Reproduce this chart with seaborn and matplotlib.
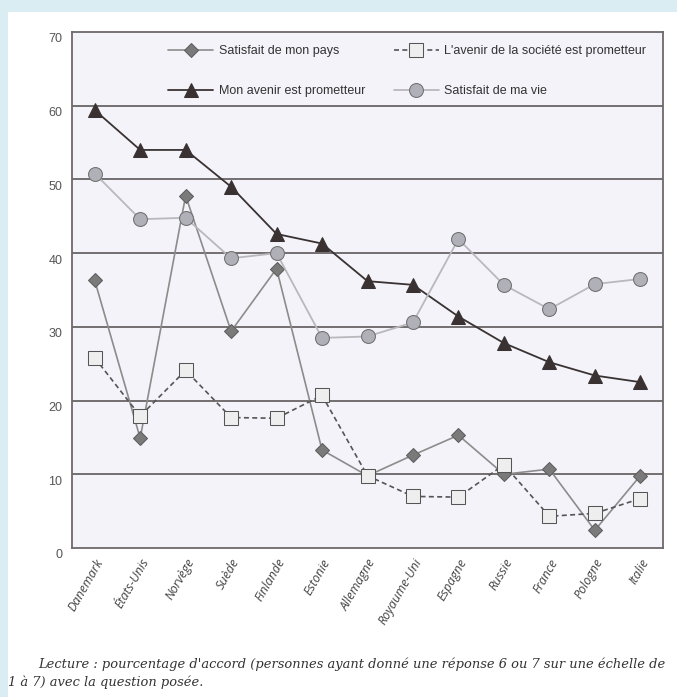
# satisfaction_pays.py
import pandas as pd
import matplotlib.pyplot as plt
import matplotlib.transforms as mtransforms
import seaborn as sns
from matplotlib.patches import Rectangle

# Data
pays = ['Danemark', 'États-Unis', 'Norvège', 'Suède', 'Finlande', 'Estonie', 'Allemagne',
        'Royaume-Uni', 'Espagne', 'Russie', 'France', 'Pologne', 'Italie']
satisfait_pays = [36.3, 14.9, 47.8, 29.4, 37.9, 13.3, 9.8, 12.6, 15.3, 10.0, 10.7, 2.4, 9.8]
avenir_societe = [25.8, 17.9, 24.1, 17.7, 17.6, 20.7, 9.8, 7.0, 6.9, 11.3, 4.3, 4.7, 6.7]
mon_avenir = [59.4, 54.0, 54.0, 49.0, 42.6, 41.3, 36.2, 35.7, 31.4, 27.8, 25.2, 23.4, 22.5]
satisfait_vie = [50.8, 44.6, 44.8, 39.3, 40.0, 28.5, 28.7, 30.6, 41.9, 35.7, 32.4, 35.8, 36.5]
yticks = [0, 10, 20, 30, 40, 50, 60, 70]
caption_1 = "Lecture : pourcentage d'accord (personnes ayant donné une réponse 6 ou 7 sur une échelle de"
caption_2 = "1 à 7) avec la question posée."

df = pd.DataFrame({'x': range(len(pays)), 'pays': pays,
                   'Satisfait de mon pays': satisfait_pays,
                   "L'avenir de la société est prometteur": avenir_societe,
                   'Mon avenir est prometteur': mon_avenir,
                   'Satisfait de ma vie': satisfait_vie})

sns.set_style('white')
plt.rcParams['font.family'] = ['Liberation Sans', 'DejaVu Sans']

fig = plt.figure(figsize=(6.77, 6.97), dpi=100, facecolor='#daedf3')
fig.patches.append(Rectangle((8 / 677, 0), 1, 1 - 12 / 697, transform=fig.transFigure,
                             facecolor='white', edgecolor='none', zorder=-5))
ax = fig.add_axes([72 / 677, 1 - 548 / 697, (663 - 72) / 677, (548 - 32) / 697])
ax.set_facecolor('#f3f3f9')

# horizontal grid
for v in yticks[1:-1]:
    ax.axhline(v, color='#5e5858', lw=1.2, zorder=1)

styles = [
    ('Satisfait de mon pays', dict(color='#8c8c8c', marker='D', markersize=7.5, markerfacecolor='#7a7a7a',
                                   markeredgecolor='#5e5e5e', linestyle='-', linewidth=1.2)),
    ("L'avenir de la société est prometteur", dict(color='#555555', marker='s', markersize=10,
                                                   markerfacecolor='#eeeeee', markeredgecolor='#555555',
                                                   linestyle=(0, (3, 2)), linewidth=1.2)),
    ('Mon avenir est prometteur', dict(color='#3a3232', marker='^', markersize=10, markerfacecolor='#3a3232',
                                       markeredgecolor='#3a3232', linestyle='-', linewidth=1.3)),
    ('Satisfait de ma vie', dict(color='#b9b9bd', marker='o', markersize=10, markerfacecolor='#b0b0b8',
                                 markeredgecolor='#707070', linestyle='-', linewidth=1.3)),
]
handles = {}
for i, (name, kw) in enumerate(styles):
    sns.lineplot(data=df, x='x', y=name, ax=ax, sort=False, zorder=3 + i, **kw)
    handles[name] = ax.lines[-1]

ax.set_xlim(-0.5, 12.5)
ax.set_ylim(0, 70)
ax.set_xlabel('')
ax.set_ylabel('')
ax.set_yticks(yticks)
ax.set_yticklabels([str(v) for v in yticks], fontsize=9, color='#555555')
ax.tick_params(axis='y', length=0, pad=7)
# labels sit a little below their gridline in the original
shift = mtransforms.ScaledTranslation(0, -0.06, fig.dpi_scale_trans)
for lab in ax.get_yticklabels():
    lab.set_transform(lab.get_transform() + shift)

# tick marks between countries, labels on the countries
ax.set_xticks([i + 0.5 for i in range(len(pays) - 1)])
ax.set_xticklabels([])
ax.tick_params(axis='x', which='major', direction='in', length=10, width=1, color='#6e6868')
ax.set_xticks(range(len(pays)), minor=True)
ax.set_xticklabels(pays, minor=True, rotation=60, ha='right', rotation_mode='anchor',
                   fontsize=9, color='#444444', family=['Open Sans', 'DejaVu Sans'], style='italic')
ax.tick_params(axis='x', which='minor', length=0, pad=6)

for s in ax.spines.values():
    s.set_visible(True)
    s.set_color('#6e6868')
    s.set_linewidth(1.3)

order = ['Satisfait de mon pays', 'Mon avenir est prometteur',
         "L'avenir de la société est prometteur", 'Satisfait de ma vie']
leg = ax.legend([handles[n] for n in order], order, ncol=2, loc='upper left',
                bbox_to_anchor=((168 - 72) / 591, 0.974), borderaxespad=0, borderpad=0,
                frameon=False, fontsize=9, labelspacing=2.2,
                handlelength=3.6, handletextpad=0.45, columnspacing=2.3)
for t in leg.get_texts():
    t.set_color('#333333')

fig.text(38 / 677, 1 - 664 / 697, caption_1, fontsize=9.4, style='italic', color='#333333',
         family=['DejaVu Serif'], va='center')
fig.text(8 / 677, 1 - 682 / 697, caption_2, fontsize=9.4, style='italic', color='#333333',
         family=['DejaVu Serif'], va='center')

plt.savefig('out.png', dpi=100, facecolor=fig.get_facecolor())
